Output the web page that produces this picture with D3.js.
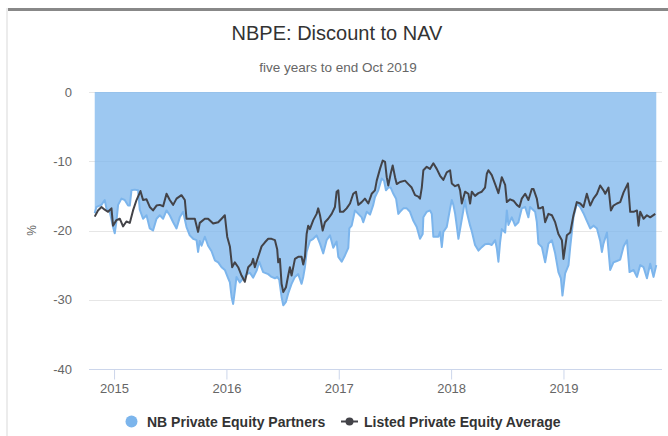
<!DOCTYPE html>
<html>
<head>
<meta charset="utf-8">
<script src="https://cdn.jsdelivr.net/npm/d3@7"></script>
<style>
  body { margin: 0; background: #fff; }
  svg { font-family: "Liberation Sans", Arial, sans-serif; }
</style>
</head>
<body>
<script>
// NBPE discount to NAV, five years to end Oct 2019
// dates are decimal years, values are % discount
const nbpeYears = [
  2014.828, 2014.843, 2014.888, 2014.917, 2014.932, 2014.962, 2014.991, 2015.006, 2015.021, 2015.036,
  2015.066, 2015.095, 2015.125, 2015.140, 2015.155, 2015.184, 2015.214, 2015.229, 2015.258, 2015.289,
  2015.318, 2015.347, 2015.378, 2015.407, 2015.437, 2015.467, 2015.496, 2015.526, 2015.556, 2015.585,
  2015.615, 2015.645, 2015.674, 2015.704, 2015.734, 2015.748, 2015.763, 2015.779, 2015.808, 2015.837,
  2015.868, 2015.897, 2015.927, 2015.957, 2015.986, 2016.016, 2016.031, 2016.046, 2016.060, 2016.075,
  2016.090, 2016.120, 2016.149, 2016.180, 2016.209, 2016.238, 2016.269, 2016.292, 2016.327, 2016.372,
  2016.402, 2016.432, 2016.452, 2016.470, 2016.491, 2016.506, 2016.530, 2016.550, 2016.580, 2016.610,
  2016.639, 2016.654, 2016.669, 2016.684, 2016.699, 2016.714, 2016.743, 2016.773, 2016.803, 2016.833,
  2016.862, 2016.892, 2016.922, 2016.951, 2016.981, 2016.996, 2017.026, 2017.055, 2017.085, 2017.094,
  2017.115, 2017.144, 2017.174, 2017.204, 2017.218, 2017.249, 2017.278, 2017.307, 2017.322, 2017.352,
  2017.382, 2017.403, 2017.420, 2017.441, 2017.462, 2017.486, 2017.510, 2017.530, 2017.545, 2017.575,
  2017.605, 2017.634, 2017.664, 2017.694, 2017.723, 2017.747, 2017.753, 2017.783, 2017.812, 2017.828,
  2017.842, 2017.886, 2017.902, 2017.917, 2017.931, 2017.961, 2017.991, 2018.006, 2018.020, 2018.035,
  2018.050, 2018.065, 2018.080, 2018.109, 2018.124, 2018.139, 2018.169, 2018.184, 2018.213, 2018.243,
  2018.273, 2018.302, 2018.332, 2018.362, 2018.392, 2018.407, 2018.421, 2018.436, 2018.451, 2018.481,
  2018.496, 2018.510, 2018.540, 2018.570, 2018.599, 2018.629, 2018.659, 2018.688, 2018.703, 2018.748,
  2018.763, 2018.777, 2018.808, 2018.837, 2018.866, 2018.897, 2018.926, 2018.955, 2018.977, 2018.991,
  2019.015, 2019.045, 2019.060, 2019.089, 2019.119, 2019.149, 2019.178, 2019.208, 2019.238, 2019.267,
  2019.298, 2019.327, 2019.342, 2019.356, 2019.387, 2019.416, 2019.445, 2019.476, 2019.505, 2019.535,
  2019.565, 2019.588, 2019.624, 2019.654, 2019.683, 2019.713, 2019.743, 2019.772, 2019.802, 2019.826
];
const nbpeValues = [
  -17.5, -16.6, -16.3, -15.6, -16.8, -17.3, -19.5, -20.4, -18.7, -16.3,
  -15.4, -15.6, -16.4, -16.4, -14.2, -14.1, -14.2, -17.0, -18.3, -17.8,
  -19.7, -20.0, -18.3, -17.8, -18.3, -17.1, -17.8, -18.8, -19.7, -18.1,
  -17.3, -19.5, -20.7, -21.2, -21.4, -23.1, -21.5, -22.2, -20.9, -22.2,
  -23.0, -24.3, -24.6, -25.3, -25.7, -26.9, -27.5, -29.6, -30.6, -28.7,
  -26.7, -27.5, -26.9, -26.3, -26.1, -26.8, -25.8, -24.5, -26.0, -26.3,
  -26.7, -26.9, -26.7, -27.1, -29.6, -30.8, -30.3, -29.1, -27.7, -26.7,
  -26.3, -27.0, -27.7, -26.7, -25.3, -23.1, -21.5, -21.2, -20.7, -21.9,
  -23.3, -21.4, -20.7, -22.5, -21.6, -23.8, -24.5, -23.6, -22.5, -19.7,
  -19.3, -17.1, -17.6, -18.1, -18.8, -17.3, -17.7, -16.3, -15.2, -14.2,
  -12.5, -12.8, -14.2, -13.8, -13.8, -14.7, -15.4, -17.6, -17.3, -16.8,
  -16.8, -17.3, -18.6, -19.5, -21.2, -20.5, -18.1, -17.3, -17.1, -17.6,
  -20.9, -20.9, -20.2, -22.4, -20.2, -19.5, -16.8, -15.6, -16.3, -17.5,
  -19.3, -21.2, -19.8, -17.1, -15.6, -17.3, -19.3, -20.1, -22.1, -22.9,
  -22.4, -22.0, -21.9, -22.1, -21.4, -22.6, -24.5, -21.7, -19.8, -20.3,
  -17.1, -19.2, -18.1, -19.3, -18.8, -16.8, -16.6, -18.1, -16.6, -17.3,
  -18.8, -21.9, -22.4, -24.6, -21.9, -21.4, -23.3, -26.0, -26.9, -29.4,
  -26.2, -25.0, -22.4, -18.1, -16.1, -16.6, -17.5, -18.6, -19.7, -19.3,
  -19.7, -21.5, -23.1, -21.9, -20.3, -25.7, -24.6, -24.4, -24.2, -22.3,
  -21.4, -26.0, -25.7, -26.7, -25.0, -25.3, -26.9, -24.8, -26.7, -25.0
];

const lpeYears = [
  2014.828, 2014.857, 2014.888, 2014.917, 2014.947, 2014.977, 2014.991, 2015.021, 2015.051, 2015.080,
  2015.110, 2015.140, 2015.169, 2015.200, 2015.235, 2015.258, 2015.289, 2015.318, 2015.347, 2015.378,
  2015.407, 2015.437, 2015.467, 2015.496, 2015.526, 2015.556, 2015.600, 2015.630, 2015.645, 2015.674,
  2015.719, 2015.748, 2015.763, 2015.808, 2015.837, 2015.882, 2015.927, 2015.957, 2015.986, 2016.007,
  2016.031, 2016.051, 2016.075, 2016.105, 2016.135, 2016.164, 2016.194, 2016.224, 2016.238, 2016.253,
  2016.283, 2016.313, 2016.343, 2016.372, 2016.402, 2016.432, 2016.452, 2016.461, 2016.476, 2016.491,
  2016.506, 2016.530, 2016.550, 2016.565, 2016.580, 2016.610, 2016.639, 2016.669, 2016.684, 2016.699,
  2016.714, 2016.728, 2016.743, 2016.773, 2016.803, 2016.817, 2016.833, 2016.857, 2016.877, 2016.906,
  2016.937, 2016.966, 2016.981, 2016.996, 2017.011, 2017.040, 2017.070, 2017.100, 2017.129, 2017.153,
  2017.174, 2017.204, 2017.233, 2017.263, 2017.293, 2017.322, 2017.338, 2017.367, 2017.391, 2017.412,
  2017.427, 2017.441, 2017.462, 2017.480, 2017.501, 2017.516, 2017.545, 2017.590, 2017.619, 2017.649,
  2017.679, 2017.708, 2017.723, 2017.739, 2017.753, 2017.783, 2017.812, 2017.842, 2017.872, 2017.902,
  2017.931, 2017.961, 2017.991, 2018.006, 2018.035, 2018.065, 2018.080, 2018.095, 2018.124, 2018.154,
  2018.169, 2018.184, 2018.213, 2018.243, 2018.273, 2018.302, 2018.318, 2018.332, 2018.362, 2018.392,
  2018.421, 2018.451, 2018.481, 2018.496, 2018.525, 2018.555, 2018.585, 2018.608, 2018.629, 2018.659,
  2018.688, 2018.718, 2018.733, 2018.763, 2018.777, 2018.792, 2018.817, 2018.837, 2018.866, 2018.897,
  2018.926, 2018.955, 2018.986, 2019.000, 2019.030, 2019.060, 2019.089, 2019.119, 2019.149, 2019.178,
  2019.208, 2019.238, 2019.267, 2019.298, 2019.327, 2019.356, 2019.372, 2019.401, 2019.422, 2019.445,
  2019.476, 2019.505, 2019.535, 2019.574, 2019.594, 2019.624, 2019.654, 2019.668, 2019.683, 2019.713,
  2019.743, 2019.772, 2019.817
];
const lpeValues = [
  -18.0, -17.1, -16.6, -17.0, -17.3, -16.8, -19.3, -18.5, -18.3, -19.4,
  -18.7, -18.9, -17.1, -15.6, -14.3, -15.6, -15.5, -16.6, -17.1, -16.4,
  -16.3, -16.5, -14.7, -15.6, -16.3, -15.4, -14.9, -15.6, -18.3, -18.3,
  -18.3, -20.2, -18.9, -18.3, -18.3, -19.0, -18.8, -18.3, -17.8, -20.9,
  -22.3, -25.3, -24.6, -25.3, -26.5, -27.4, -25.3, -24.8, -24.1, -25.3,
  -23.8, -22.3, -21.7, -21.2, -21.2, -21.4, -22.7, -24.6, -24.1, -27.7,
  -28.9, -28.2, -26.5, -25.3, -26.5, -24.1, -23.8, -23.8, -24.9, -23.8,
  -20.5, -19.3, -19.8, -18.5, -17.6, -16.8, -17.8, -20.0, -18.8, -18.3,
  -17.6, -16.6, -14.4, -14.2, -17.3, -17.3, -16.8, -16.1, -14.7, -14.4,
  -16.3, -15.9, -15.4, -16.1, -14.7, -14.2, -12.8, -11.1, -9.9, -10.1,
  -12.3, -13.5, -11.8, -10.6, -12.3, -13.3, -13.0, -12.8, -13.3, -13.8,
  -14.9, -15.1, -15.4, -13.8, -11.3, -10.8, -11.1, -10.3, -11.1, -12.1,
  -12.7, -11.6, -11.3, -13.2, -13.6, -13.4, -14.2, -16.1, -14.4, -14.7,
  -16.1, -14.4, -15.0, -14.6, -14.4, -13.8, -11.8, -11.3, -12.0, -13.3,
  -14.6, -12.3, -13.4, -15.9, -15.5, -15.7, -16.3, -16.6, -15.4, -14.7,
  -15.6, -14.0, -14.0, -15.4, -16.8, -16.8, -16.6, -18.8, -17.6, -17.8,
  -18.8, -20.5, -21.4, -24.1, -20.7, -20.3, -17.8, -15.9, -16.1, -16.6,
  -14.7, -16.4, -15.4, -14.7, -13.5, -14.2, -14.7, -13.8, -17.1, -16.4,
  -16.1, -15.9, -14.5, -13.2, -17.3, -17.3, -17.1, -19.3, -17.3, -18.3,
  -17.8, -18.1, -17.6
];

const xTicks = [2015, 2016, 2017, 2018, 2019];
const yTicks = [0, -10, -20, -30, -40];

const w = 668;
const h = 436;
const plotLeft = 89;
const plotRight = 662;
const plotTop = 92;
const plotBottom = 369;

const nbpeColor = '#7cb5ec';
const lpeColor = '#434348';

const nbpe = nbpeYears.map((t, i) => ({ t: t, v: nbpeValues[i] }));
const lpe = lpeYears.map((t, i) => ({ t: t, v: lpeValues[i] }));

const svg = d3
  .select('body')
  .append('svg')
  .attr('width', w)
  .attr('height', h);

// card frame
svg.append('rect')
  .attr('x', 6).attr('y', 8)
  .attr('width', 2).attr('height', h - 8)
  .attr('fill', '#ececec');
svg.append('rect')
  .attr('x', 8).attr('y', 8)
  .attr('width', w - 8).attr('height', 3)
  .attr('fill', '#888');

const x = d3.scaleLinear()
  .domain([2014.777, 2019.877])
  .range([plotLeft, plotRight]);

const y = d3.scaleLinear()
  .domain([-40, 0])
  .range([plotBottom, plotTop]);

// title + subtitle
svg.append('text')
  .attr('x', 337)
  .attr('y', 40)
  .attr('text-anchor', 'middle')
  .style('font-size', '20px')
  .style('fill', '#333')
  .text('NBPE: Discount to NAV');

svg.append('text')
  .attr('x', 338)
  .attr('y', 72)
  .attr('text-anchor', 'middle')
  .style('font-size', '13.5px')
  .style('fill', '#666')
  .text('five years to end Oct 2019');

// grid
svg.append('g')
  .selectAll('line')
  .data(yTicks.filter(d => d !== -40))
  .enter()
  .append('line')
  .attr('x1', plotLeft)
  .attr('x2', plotRight)
  .attr('y1', d => Math.round(y(d)) + 0.5)
  .attr('y2', d => Math.round(y(d)) + 0.5)
  .attr('stroke', '#e6e6e6');

// area from 0 down to NBPE
const area = d3.area()
  .x(d => x(d.t))
  .y0(y(0))
  .y1(d => y(d.v));

svg.append('path')
  .datum(nbpe)
  .attr('d', area)
  .attr('fill', nbpeColor)
  .attr('fill-opacity', 0.75);

const line = d3.line()
  .x(d => x(d.t))
  .y(d => y(d.v));

svg.append('path')
  .datum(nbpe)
  .attr('d', line)
  .attr('fill', 'none')
  .attr('stroke', nbpeColor)
  .attr('stroke-width', 2)
  .attr('stroke-linejoin', 'round');

svg.append('path')
  .datum(lpe)
  .attr('d', line)
  .attr('fill', 'none')
  .attr('stroke', lpeColor)
  .attr('stroke-width', 2)
  .attr('stroke-linejoin', 'round');

// axes
const xAxis = d3.axisBottom(x)
  .tickValues(xTicks)
  .tickFormat(d3.format('d'))
  .tickSize(10)
  .tickPadding(4);

const gx = svg.append('g')
  .attr('transform', 'translate(0,' + (plotBottom + 0.5) + ')')
  .call(xAxis);
gx.select('.domain').attr('stroke', '#ccd6eb').attr('d', 'M' + plotLeft + ',0H' + plotRight);
gx.selectAll('.tick line').attr('stroke', '#ccd6eb');
gx.selectAll('.tick text')
  .style('font-size', '13px')
  .style('font-family', '"Liberation Sans", Arial, sans-serif')
  .style('fill', '#666');

const yAxis = d3.axisLeft(y)
  .tickValues(yTicks)
  .tickFormat(d => String(d))
  .tickSize(0)
  .tickPadding(17);

const gy = svg.append('g')
  .attr('transform', 'translate(' + plotLeft + ',0)')
  .call(yAxis);
gy.select('.domain').remove();
gy.selectAll('.tick text')
  .style('font-size', '13px')
  .style('font-family', '"Liberation Sans", Arial, sans-serif')
  .style('fill', '#666');

svg.append('text')
  .attr('transform', 'translate(36,' + ((plotTop + plotBottom) / 2) + ') rotate(-90)')
  .attr('text-anchor', 'middle')
  .style('font-size', '12px')
  .style('fill', '#666')
  .text('%');

// legend
const legend = svg.append('g').attr('transform', 'translate(0,421.5)');

legend.append('circle')
  .attr('cx', 131.5)
  .attr('cy', 0)
  .attr('r', 6)
  .attr('fill', nbpeColor);

legend.append('text')
  .attr('x', 147)
  .attr('y', 5)
  .style('font-size', '14px')
  .style('font-weight', 'bold')
  .style('fill', '#333')
  .text('NB Private Equity Partners');

legend.append('line')
  .attr('x1', 341)
  .attr('x2', 358)
  .attr('stroke', lpeColor)
  .attr('stroke-width', 2);

legend.append('circle')
  .attr('cx', 349.5)
  .attr('cy', 0)
  .attr('r', 4)
  .attr('fill', lpeColor);

legend.append('text')
  .attr('x', 364)
  .attr('y', 5)
  .style('font-size', '14px')
  .style('font-weight', 'bold')
  .style('fill', '#333')
  .text('Listed Private Equity Average');
</script>
</body>
</html>
